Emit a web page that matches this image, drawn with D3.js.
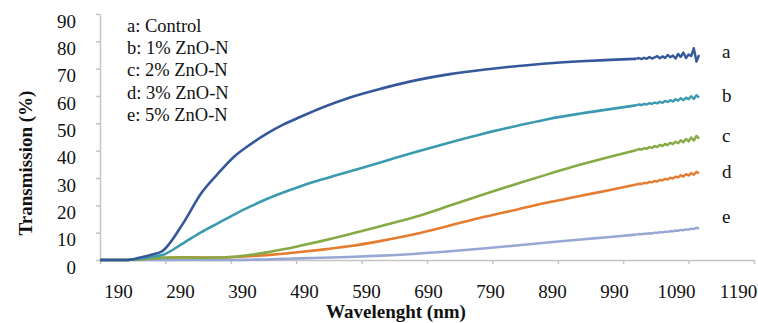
<!DOCTYPE html>
<html>
<head>
<meta charset="utf-8">
<script src="https://cdn.jsdelivr.net/npm/d3@7"></script>
<style>
  body { margin: 0; background: #fff; }
</style>
</head>
<body>
<div id="chart"></div>
<script>
// wavelengths (nm) of the smooth part, shared by all series
var wavelengths = [190, 230, 250, 270, 285, 317, 345, 370, 395, 420, 445, 470, 496, 530, 570, 620, 674, 725, 776, 830, 878, 925, 970];
// noisy tail of the scan (read every 4 nm)
var tailWavelengths = [1010, 1014, 1018, 1022, 1026, 1030, 1034, 1038, 1042, 1046, 1050, 1054, 1058, 1062, 1066, 1070, 1074, 1078, 1082, 1086, 1090, 1094, 1098, 1102, 1106];

var seriesNames = ["a", "b", "c", "d", "e"];
var legendLabels = ["a: Control", "b: 1% ZnO-N", "c: 2% ZnO-N", "d: 3% ZnO-N", "e: 5% ZnO-N"];
var seriesColors = ["#34589a", "#3b9ab0", "#86aa46", "#e57c30", "#98a8d4"];

var controlValues = [0, 0, 0.8, 2, 3.2, 13.4, 24.5, 31.5, 37.8, 42.3, 46.2, 49.5, 52.3, 55.8, 59.3, 62.7, 65.8, 68, 69.6, 71, 72, 72.7, 73.2];
var controlTail = [73.6, 73.9, 73.5, 74.0, 73.6, 74.3, 73.7, 74.1, 74.6, 73.8, 74.5, 73.9, 75.0, 74.2, 74.8, 73.7, 75.4, 74.3, 75.9, 73.9, 75.2, 74.6, 77.5, 72.6, 75.0];

var zno1Values = [0, 0, 0.5, 1.2, 1.8, 6.1, 10.2, 13.4, 16.6, 19.6, 22.3, 24.7, 26.9, 29.5, 32.3, 35.8, 39.6, 43, 46.2, 49.2, 51.7, 53.6, 55.2];
var zno1Tail = [56.6, 56.9, 56.7, 57.1, 56.9, 57.4, 57.1, 57.6, 57.3, 57.9, 57.5, 58.2, 57.8, 58.5, 58.0, 58.8, 58.3, 59.2, 58.5, 59.4, 58.8, 59.9, 58.9, 60.3, 59.4];

var zno2Values = [0, 0, 0.3, 0.6, 0.8, 0.9, 0.8, 0.9, 1.2, 1.9, 2.8, 3.9, 5.2, 7, 9.3, 12.4, 15.9, 19.9, 24, 28.1, 31.6, 34.9, 37.8];
var zno2Tail = [40.2, 40.6, 40.4, 40.9, 40.7, 41.3, 41.0, 41.7, 41.3, 42.1, 41.7, 42.5, 42.0, 42.9, 42.4, 43.3, 42.7, 43.8, 43.1, 44.3, 43.4, 44.8, 43.7, 45.4, 44.4];

var zno3Values = [0, 0, 0.3, 0.6, 0.8, 1, 0.9, 0.9, 1.1, 1.4, 1.8, 2.3, 2.9, 3.8, 5.0, 7.0, 9.6, 12.6, 15.7, 18.6, 21.2, 23.5, 25.6];
var zno3Tail = [27.6, 27.9, 27.8, 28.2, 28.1, 28.6, 28.4, 28.9, 28.7, 29.3, 29.1, 29.7, 29.4, 30.1, 29.8, 30.5, 30.2, 31.0, 30.5, 31.4, 30.9, 31.8, 31.2, 32.3, 31.7];

var zno5Values = [0, 0, 0, 0, 0, 0, 0, 0, 0, 0.1, 0.2, 0.4, 0.6, 0.8, 1.1, 1.6, 2.3, 3.2, 4.2, 5.4, 6.5, 7.5, 8.4];
var zno5Tail = [9.3, 9.5, 9.4, 9.6, 9.6, 9.8, 9.7, 10.0, 9.9, 10.2, 10.1, 10.4, 10.3, 10.6, 10.5, 10.8, 10.7, 11.0, 10.9, 11.2, 11.1, 11.5, 11.3, 11.8, 11.5];

// where the a..e tags sit, in chart units
var tagWavelength = 1141;
var tagValues = [73.9, 57.8, 43.2, 30.0, 13.5];

var xTicks = [190, 290, 390, 490, 590, 690, 790, 890, 990, 1090, 1190];
var yTicks = [0, 10, 20, 30, 40, 50, 60, 70, 80, 90];

var width = 758, height = 323;
var axisColor = "#c4c4c4";
var serif = "Times New Roman, Liberation Serif, Tinos, Times, serif";

var svg = d3.select("#chart").append("svg")
  .attr("width", width)
  .attr("height", height)
  .style("font-family", serif);

var x = d3.scaleLinear().domain([190, 1190]).range([100, 754]);
var y = d3.scaleLinear().domain([0, 90]).range([260, 14]);
// tick labels sit a bit off their ticks in the picture
var xLabelPos = d3.scaleLinear().domain([190, 1190]).range([118, 738]);

function serifText(sel, size) {
  sel.style("font-family", serif).style("font-size", size).attr("fill", "#111");
}

// y axis
var yAxis = svg.append("g")
  .attr("transform", "translate(100,0)")
  .call(d3.axisLeft(y).tickValues(yTicks).tickSize(4).tickSizeOuter(0).tickFormat(d3.format("d")));
yAxis.select(".domain").attr("stroke", axisColor).attr("stroke-width", 1.5);
yAxis.selectAll(".tick line").attr("stroke", axisColor).attr("stroke-width", 1.5);
yAxis.selectAll(".tick text")
  .attr("x", -24)
  .attr("dy", "0.32em")
  .attr("transform", "translate(0,7)")
  .call(serifText, "19px");

// x axis
var xAxis = svg.append("g")
  .attr("transform", "translate(0,260)")
  .call(d3.axisBottom(x).tickValues(xTicks).tickSize(4).tickSizeOuter(0).tickFormat(d3.format("d")));
xAxis.select(".domain").attr("stroke", axisColor).attr("stroke-width", 1.5);
xAxis.selectAll(".tick line").attr("stroke", axisColor).attr("stroke-width", 1.5);
xAxis.selectAll(".tick text")
  .attr("x", function(d) { return xLabelPos(d) - x(d); })
  .attr("y", 38)
  .attr("dy", null)
  .call(serifText, "19px");

// axis titles
svg.append("text")
  .attr("transform", "translate(32,163) rotate(-90)")
  .attr("text-anchor", "middle")
  .call(serifText, "19px")
  .style("font-weight", "bold")
  .text("Transmission (%)");

svg.append("text")
  .attr("x", 396)
  .attr("y", 318)
  .attr("text-anchor", "middle")
  .call(serifText, "19px")
  .style("font-weight", "bold")
  .text("Wavelenght (nm)");

// lines: smooth body + jagged tail
var mainLine = d3.line()
  .x(function(d) { return x(d[0]); })
  .y(function(d) { return y(d[1]); })
  .curve(d3.curveMonotoneX);

var tailLine = d3.line()
  .x(function(d) { return x(d[0]); })
  .y(function(d) { return y(d[1]); });

var bodies = [controlValues, zno1Values, zno2Values, zno3Values, zno5Values];
var tails = [controlTail, zno1Tail, zno2Tail, zno3Tail, zno5Tail];

// draw from e to a so that a ends up on top
for (var i = bodies.length - 1; i >= 0; i--) {
  var body = wavelengths.map(function(w, j) { return [w, bodies[i][j]]; });
  var tail = tailWavelengths.map(function(w, j) { return [w, tails[i][j]]; });
  svg.append("path")
    .datum(body.concat([tail[0]]))
    .attr("fill", "none")
    .attr("stroke", seriesColors[i])
    .attr("stroke-width", 2.6)
    .attr("stroke-linejoin", "round")
    .attr("d", mainLine);
  svg.append("path")
    .datum(tail)
    .attr("fill", "none")
    .attr("stroke", seriesColors[i])
    .attr("stroke-width", 2.4)
    .attr("stroke-linejoin", "round")
    .attr("d", tailLine);
}

// series tags
svg.selectAll(".tag")
  .data(seriesNames)
  .enter().append("text")
  .attr("class", "tag")
  .attr("x", x(tagWavelength))
  .attr("y", function(d, i) { return y(tagValues[i]); })
  .call(serifText, "19px")
  .text(function(d) { return d; });

// legend block (plain text list)
svg.selectAll(".legend")
  .data(legendLabels)
  .enter().append("text")
  .attr("class", "legend")
  .attr("x", 127)
  .attr("y", function(d, i) { return 32 + i * 22.2; })
  .call(serifText, "18.5px")
  .text(function(d) { return d; });
</script>
</body>
</html>
